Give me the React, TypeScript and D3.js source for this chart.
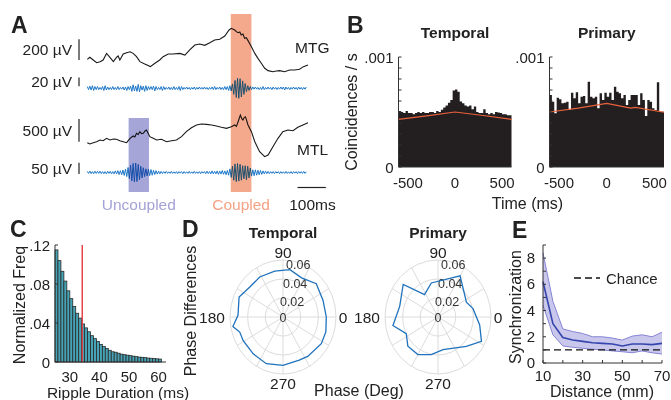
import React from "react";
import * as d3 from "d3";

const FONT = "'Liberation Sans', Arial, Helvetica, sans-serif";
const INK = "#231f20";
const AXIS = "#333333";

// ---------- A: example traces ----------
// [time ms, µV]
const mtgLfp: [number, number][] = [
  [0, 6], [9, 26], [21, 0], [33, -26], [45, -16], [56, 0], [68, 64], [80, 26], [92, -16], [103, 26],
  [109, 39], [115, 0], [127, 58], [139, 71], [151, 80], [162, 64], [174, 32], [186, -16], [203, -39],
  [223, -64], [239, -32], [256, 0], [268, 32], [286, 58], [303, 58], [327, 64], [345, 48], [362, 97],
  [380, 145], [397, 155], [415, 142], [433, 167], [450, 193], [468, 200], [486, 232], [501, 290],
  [509, 306], [521, 290], [527, 274], [533, 264], [539, 270], [544, 242], [550, 250], [556, 209],
  [562, 215], [568, 187], [580, 129], [592, 64], [603, 16], [615, -32], [627, -80], [639, -103],
  [656, -113], [668, -106], [680, -103], [697, -113], [715, -97], [733, -97], [750, -90], [764, -64],
  [780, -48],
];
const mtlLfp: [number, number][] = [
  [0, -59], [9, -88], [21, -59], [33, -37], [45, 0], [56, -15], [68, 37], [80, 0], [92, 22], [103, 15],
  [115, -15], [127, -37], [139, -59], [151, 37], [162, 88], [168, 66], [174, 147], [180, 120], [186, 183],
  [192, 140], [198, 147], [204, 200], [209, 220], [215, 147], [221, 73], [233, 37], [245, 0], [262, 15],
  [280, -37], [298, -15], [315, 0], [333, 73], [350, 183], [368, 271], [386, 330], [403, 352], [421, 345],
  [439, 330], [456, 308], [474, 279], [492, 257], [509, 293], [521, 330], [527, 300], [533, 403],
  [541, 550], [546, 470], [550, 440], [555, 500], [559, 513], [568, 330], [580, 183], [592, -37],
  [609, -257], [627, -367], [639, -330], [656, -147], [674, 37], [691, 183], [709, 220], [727, 205],
  [744, 279], [762, 330], [780, 381],
];
// ripple band traces: one peak value (µV) per half cycle
const rippleStep = 4.5; // ms per half cycle
const mtgRipple = [
  4, -3, 5, -4, 6, -5, 4, -3, 4, -3, 2, -3, 4, -5, 6, -4, 3, -3, 2, -3,
  4, -3, 2, -3, 4, -3, 2, -2, 3, -4, 3, -5, 4, -3, 5, -7, 8, -6, 5, -7,
  9, -8, 6, -4, 5, -7, 6, -5, 4, -3, 4, -3, 5, -6, 4, -3, 2, -3, 4, -5,
  4, -3, 2, -2, 3, -3, 2, -3, 4, -3, 2, -3, 4, -5, 4, -3, 2, -2, 3, -2,
  2, -3, 2, -2, 3, -3, 2, -2, 3, -2, 2, -2, 3, -2, 2, -3, 2, -2, 3, -3,
  4, -3, 2, -2, 3, -3, 2, -3, 4, -3, 4, -5, 6, -6, 10, -14, 18, -21, 23, -23,
  22, -20, 17, -14, 11, -8, 6, -5, 4, -3, 3, -2, 3, -2, 2, -3, 2, -3, 4, -3,
  2, -2, 3, -2, 2, -3, 3, -2, 2, -3, 2, -2, 3, -2, 3, -4, 3, -2, 2, -3,
  2, -2, 3, -2, 2, -3, 3, -2, 2, -3, 2, -2, 3,
];
const mtlRipple = [
  5, -4, 6, -5, 4, -5, 6, -4, 5, -4, 6, -5, 4, -5, 4, -6, 5, -4, 5, -6, 4,
  -6, 7, -6, 8, -9, 8, -10, 11, -13, 15, -18,
  22, -27, 32, -37, 40, -42, 42, -40, 36, -32, 28, -24, 21, -18, 16, -15, 14,
  -14, 13, -12, 10, -9, 8, -7, 6, -6, 5, -5, 4,
  -4, 5, -4, 3, -4, 5, -4, 3, -4, 4, -5, 4, -3, 4, -5, 4, -4, 3, -4, 5,
  -4, 3, -4, 5, -4, 3, -4, 4, -5, 4, -3, 4, -5, 6, -5, 4, -6, 7, -6, 5,
  -6, 7, -8, 6, -7, 9, -8, 7, -10, 9, -12, 16,
  -22, 28, -34, 38, -40, 40, -38, 36, -34, 30, -28, 30, -32, 28, -24, 20, -16, 12,
  -14, 12, -12, 10, -10, 9, -8, 7, -6, 6, -5, 5, -5, 4, -4,
  4, -5, 4, -3, 4, -5, 4, -4, 3, -4, 5, -4, 3, -4, 4, -5, 4, -3, 4, -5,
  4, -3, 4, -4, 5, -4, 3,
];
const uncoupledWin = [146, 218];
const coupledWin = [507, 580];
const scaleBars = [
  { label: "200 µV", trace: "mtg", base: 0, size: 200 },
  { label: "20 µV", trace: "mtgR", base: 5, size: 20 },
  { label: "500 µV", trace: "mtl", base: -40, size: 500 },
  { label: "50 µV", trace: "mtlR", base: -7, size: 50 },
];

// ---------- B: coincidence histograms ----------
const binStart = -600;
const binWidth = 25;
const temporalCoinc = [
  5.1, 5.0, 4.9, 5.1, 4.9, 4.9, 4.8, 4.9, 5.0, 4.9, 5.0, 4.9, 4.9, 5.0, 5.0, 4.9,
  5.1, 5.0, 5.2, 5.4, 5.6, 5.85, 6.1, 6.95, 7.05, 6.85, 5.95, 5.8, 5.6, 5.5, 5.6, 5.25,
  5.5, 5.0, 4.9, 4.9, 5.25, 4.9, 4.8, 4.9, 4.8, 5.0, 4.95, 4.9, 4.8, 4.8, 4.7, 4.7,
]; // x 1e-4
const primaryCoinc = [
  6.55, 5.94, 4.88, 6.3, 6.15, 5.79, 5.85, 5.94, 5.18, 6.76, 6.24, 6.79, 5.79, 6.39, 6.45, 5.79,
  7.76, 6.39, 6.24, 6.39, 5.33, 6.7, 6.09, 6.76, 6.39, 6.76, 6.09, 7.3, 6.85, 6.7, 6.24, 6.55,
  5.64, 6.09, 6.55, 6.55, 6.55, 5.64, 6.7, 6.09, 4.64, 6.09, 5.94, 5.33, 5.18, 7.7, 5.03, 5.03,
]; // x 1e-4
const temporalChance: [number, number][] = [[-600, 4.33], [-300, 4.65], [0, 5.0], [300, 4.68], [600, 4.33]];
const primaryChance: [number, number][] = [[-600, 5.0], [-300, 5.35], [0, 5.78], [250, 5.35], [300, 5.42], [600, 4.98]];
const timeTicks = [-500, 0, 500];

// ---------- C: ripple duration ----------
const rippleDur = [
  25, 26, 27, 28, 29, 30, 31, 32, 33, 34, 35, 36, 37, 38, 39, 40, 41, 42,
  43, 44, 45, 46, 47, 48, 49, 50, 51, 52, 53, 54, 55, 56, 57, 58, 59, 60,
];
const rippleFreq = [
  0.115, 0.104, 0.093, 0.083, 0.073, 0.065, 0.057, 0.05, 0.045, 0.039, 0.035, 0.031,
  0.027, 0.024, 0.021, 0.018, 0.016, 0.014, 0.012, 0.0105, 0.01, 0.009, 0.008, 0.0075,
  0.007, 0.0065, 0.006, 0.0055, 0.005, 0.0048, 0.0045, 0.004, 0.0038, 0.0035, 0.0032, 0.003,
];
const durationCut = 34.2;
const freqTicks = [0, 0.04, 0.08, 0.12];
const freqTickLabels = ["0", ".04", ".08", ".12"];
const durTicks = [30, 40, 50, 60];

// ---------- D: phase differences ----------
const temporalPhase: [number, number][] = [
  [0, 0.049], [21, 0.0486], [43, 0.0515], [63, 0.0463], [81, 0.0504], [101, 0.0493], [122, 0.0497],
  [140, 0.049], [157, 0.054], [178, 0.051], [190, 0.0576], [198, 0.0515], [209, 0.0515], [229, 0.0514],
  [249, 0.0526], [270, 0.0509], [292, 0.049], [304, 0.05], [327, 0.0517], [342, 0.051],
];
const primaryPhase: [number, number][] = [
  [12.5, 0.0406], [26, 0.0358], [60, 0.05], [102, 0.0366], [123, 0.028], [139, 0.0522],
  [165.5, 0.0448], [190, 0.0518], [206, 0.04], [222, 0.0459], [240, 0.0456], [259, 0.0403],
  [279.4, 0.0349], [316, 0.0445], [332.5, 0.0555], [350, 0.0479],
];
const ringValues = [0.02, 0.04, 0.06];
const ringLabels = ["0", "0.02", "0.04", "0.06"];
const spokeAngles = [0, 30, 60, 90, 120, 150, 180, 210, 240, 270, 300, 330];

// ---------- E: synchronization vs distance ----------
const distances = [10, 15, 20, 25, 30, 35, 40, 45, 50, 55, 60, 65, 70];
const syncMean = [6.2, 3.0, 1.95, 1.75, 1.65, 1.55, 1.5, 1.45, 1.3, 1.45, 1.45, 1.4, 1.5];
const syncUpper = [8.4, 4.7, 2.6, 2.4, 2.25, 2.0, 2.0, 1.9, 1.75, 2.05, 2.15, 2.0, 2.35];
const syncLower = [4.4, 2.15, 1.3, 1.2, 1.12, 1.05, 1.0, 0.92, 0.86, 0.78, 0.92, 0.78, 0.68];
const chanceLevel = 1;
const syncTicks = [0, 2, 4, 6, 8];
const distTicks = [10, 30, 50, 70];

const T = (p: any) => <text fontFamily={FONT} fill="#222" {...p} />;

function PanelA() {
  const x = d3.scaleLinear().domain([0, 780]).range([87.3, 308]);
  const ys: Record<string, d3.ScaleLinear<number, number>> = {
    mtg: d3.scaleLinear().domain([0, 200]).range([60, 39.3]),
    mtgR: d3.scaleLinear().domain([0, 20]).range([88.3, 79.6]),
    mtl: d3.scaleLinear().domain([0, 500]).range([140, 117.3]),
    mtlR: d3.scaleLinear().domain([0, 50]).range([172.5, 161.2]),
  };
  const lfp = (y: d3.ScaleLinear<number, number>) =>
    d3.line<[number, number]>().x((d) => x(d[0])).y((d) => y(d[1]));
  const rip = (y: d3.ScaleLinear<number, number>) =>
    d3.line<number>().x((_, i) => x(i * rippleStep)).y((d) => y(d));
  const blue = "#1f78c8";
  return (
    <g>
      <T x={11} y={33} fontSize={23} fontWeight="bold">A</T>
      <path d={lfp(ys.mtg)(mtgLfp) || ""} fill="none" stroke="#1a1a1a" strokeWidth={1.1} />
      <path d={rip(ys.mtgR)(mtgRipple) || ""} fill="none" stroke={blue} strokeWidth={1} />
      <path d={lfp(ys.mtl)(mtlLfp) || ""} fill="none" stroke="#1a1a1a" strokeWidth={1.1} />
      <path d={rip(ys.mtlR)(mtlRipple) || ""} fill="none" stroke={blue} strokeWidth={1} />
      <rect x={x(uncoupledWin[0])} width={x(uncoupledWin[1]) - x(uncoupledWin[0])} y={118} height={74}
        fill="#8f8ecf" opacity={0.8} style={{ mixBlendMode: "multiply" }} />
      <rect x={x(coupledWin[0])} width={x(coupledWin[1]) - x(coupledWin[0])} y={14} height={178}
        fill="#f39a78" opacity={0.85} style={{ mixBlendMode: "multiply" }} />
      {scaleBars.map((b) => {
        const y = ys[b.trace];
        const y0 = y(b.base), y1 = y(b.base + b.size);
        return (
          <g key={b.label}>
            <line x1={79} x2={79} y1={y0} y2={y1} stroke="#222" strokeWidth={1.2} />
            <T x={72} y={(y0 + y1) / 2 + 5.5} fontSize={15.5} textAnchor="end">{b.label}</T>
          </g>
        );
      })}
      <T x={295} y={53.3} fontSize={15.5}>MTG</T>
      <T x={297} y={155} fontSize={15.5}>MTL</T>
      <line x1={x(743)} x2={x(843)} y1={187.5} y2={187.5} stroke="#222" strokeWidth={1.2} />
      <T x={(x(uncoupledWin[0]) + x(uncoupledWin[1])) / 2} y={209.5} fontSize={15.5} textAnchor="middle" fill="#a3a2d6">Uncoupled</T>
      <T x={(x(coupledWin[0]) + x(coupledWin[1])) / 2} y={209.5} fontSize={15.5} textAnchor="middle" fill="#f4a283">Coupled</T>
      <T x={312.5} y={209.5} fontSize={15.5} textAnchor="middle">100ms</T>
    </g>
  );
}

function Histo({ data, chance, x0, x1, title, showYLabel }: any) {
  const x = d3.scaleLinear().domain([-600, 600]).range([x0, x1]);
  const y = d3.scaleLinear().domain([0, 0.001]).range([167, 57]);
  const line = d3.line<[number, number]>().x((d) => x(d[0])).y((d) => y(d[1] * 1e-4));
  const steps: [number, number][] = data.map((v: number, i: number) => [binStart + i * binWidth, v]);
  steps.push([binStart + data.length * binWidth, data[data.length - 1]]);
  const bars = d3.area<[number, number]>().x((d) => x(d[0])).y0(y(0)).y1((d) => y(d[1] * 1e-4)).curve(d3.curveStepAfter);
  const yt = d3.range(0, 11).map((k) => k * 0.0001);
  return (
    <g>
      <T x={(x0 + x1) / 2} y={37.5} fontSize={15.5} fontWeight="bold" textAnchor="middle">{title}</T>
      <path d={bars(steps) || ""} fill={INK} />
      <path d={line(chance) || ""} fill="none" stroke="#e8603c" strokeWidth={1.2} />
      <line x1={x0} x2={x0} y1={y(0)} y2={y(0.001)} stroke={AXIS} strokeWidth={1} />
      <line x1={x0} x2={x1} y1={y(0)} y2={y(0)} stroke={AXIS} strokeWidth={1} />
      {yt.map((t) => <line key={t} x1={x0} x2={x0 + 3} y1={y(t)} y2={y(t)} stroke={AXIS} strokeWidth={1} />)}
      <T x={x0 - 5} y={y(0.001) + 5.5} fontSize={15} textAnchor="end">.001</T>
      <T x={x0 - 5} y={y(0) + 5.5} fontSize={15} textAnchor="end">0</T>
      {timeTicks.map((t) => (
        <T key={t} x={x(t)} y={188} fontSize={15} textAnchor="middle">{t < 0 ? `-${-t}` : t}</T>
      ))}
      {showYLabel && (
        <T transform={`translate(357,112) rotate(-90)`} fontSize={16} textAnchor="middle">Coincidences / s</T>
      )}
    </g>
  );
}

function PanelC() {
  const x = d3.scaleLinear().domain([25, 62.5]).range([55, 166]);
  const y = d3.scaleLinear().domain([0, 0.12]).range([362, 245]);
  return (
    <g>
      <T x={10} y={237} fontSize={23} fontWeight="bold">C</T>
      {rippleDur.map((d, i) => (
        <rect key={d} x={x(d)} width={x(d + 1) - x(d)} y={y(rippleFreq[i])} height={y(0) - y(rippleFreq[i])}
          fill="#46a3b6" stroke="#2a2a2a" strokeWidth={0.8} />
      ))}
      <line x1={x(durationCut)} x2={x(durationCut)} y1={y(0.12)} y2={y(0)} stroke="#e8383d" strokeWidth={1.4} />
      <line x1={x(25)} x2={x(25)} y1={y(0)} y2={y(0.12)} stroke={AXIS} />
      <line x1={x(25)} x2={x(62.5)} y1={y(0)} y2={y(0)} stroke={AXIS} />
      {freqTicks.map((t, i) => (
        <g key={t}>
          <line x1={x(25)} x2={x(25) + 3} y1={y(t)} y2={y(t)} stroke={AXIS} />
          <T x={50} y={y(t) + 5.5} fontSize={15} textAnchor="end">{freqTickLabels[i]}</T>
        </g>
      ))}
      {durTicks.map((t) => (
        <T key={t} x={x(t)} y={381.5} fontSize={15} textAnchor="middle">{t}</T>
      ))}
      <T transform={`translate(25,305) rotate(-90)`} fontSize={16} textAnchor="middle">Normalized Freq</T>
      <T x={118} y={398} fontSize={15.5} textAnchor="middle">Ripple Duration (ms)</T>
    </g>
  );
}

function Polar({ cx, cy, data, title }: any) {
  const rx = d3.scaleLinear().domain([0, 0.06]).range([0, 53]);
  const ry = d3.scaleLinear().domain([0, 0.06]).range([0, 57]);
  const pt = (deg: number, r: number): [number, number] => {
    const a = (deg * Math.PI) / 180;
    return [cx + rx(r) * Math.cos(a), cy - ry(r) * Math.sin(a)];
  };
  const line = d3.line<[number, number]>().x((d) => pt(d[0], d[1])[0]).y((d) => pt(d[0], d[1])[1]).curve(d3.curveLinearClosed);
  const grid = "#dcdcdc";
  return (
    <g>
      <T x={cx} y={238} fontSize={15.5} fontWeight="bold" textAnchor="middle">{title}</T>
      {ringValues.map((r) => (
        <ellipse key={r} cx={cx} cy={cy} rx={rx(r)} ry={ry(r)} fill="none" stroke={grid} strokeWidth={1} />
      ))}
      {spokeAngles.map((a) => {
        const [px, py] = pt(a, 0.06);
        return <line key={a} x1={cx} y1={cy} x2={px} y2={py} stroke={grid} strokeWidth={1} />;
      })}
      {[0, ...ringValues].map((r, i) => {
        const [px, py] = pt(80, r);
        return (
          <T key={r} x={r === 0 ? cx : px + 6} y={r === 0 ? cy + 4.5 : py + 8} fontSize={12.5} textAnchor="middle" fill="#333">
            {ringLabels[i]}
          </T>
        );
      })}
      <path d={line(data) || ""} fill="none" stroke="#1f72bd" strokeWidth={1.3} />
      <T x={cx} y={cy - 59.5} fontSize={15.5} textAnchor="middle">90</T>
      <T x={cx} y={cy + 71.5} fontSize={15.5} textAnchor="middle">270</T>
      <T x={cx + 60} y={cy + 5.5} fontSize={15.5} textAnchor="middle">0</T>
      <T x={cx - 71} y={cy + 5.5} fontSize={15.5} textAnchor="middle">180</T>
    </g>
  );
}

function PanelE() {
  const x = d3.scaleLinear().domain([10, 70]).range([543, 662]);
  const y = d3.scaleLinear().domain([0, 9]).range([363, 245]);
  const area = d3.area<number>().x((d) => x(d)).y0((_, i) => y(syncLower[i])).y1((_, i) => y(syncUpper[i]));
  const lineU = d3.line<number>().x((d) => x(d)).y((_, i) => y(syncUpper[i]));
  const lineL = d3.line<number>().x((d) => x(d)).y((_, i) => y(syncLower[i]));
  const lineM = d3.line<number>().x((d) => x(d)).y((_, i) => y(syncMean[i]));
  return (
    <g>
      <T x={512} y={238} fontSize={23} fontWeight="bold">E</T>
      <path d={area(distances) || ""} fill="#c9c8ec" />
      <path d={lineU(distances) || ""} fill="none" stroke="#8584d4" strokeWidth={1} />
      <path d={lineL(distances) || ""} fill="none" stroke="#8584d4" strokeWidth={1} />
      <path d={lineM(distances) || ""} fill="none" stroke="#3545ad" strokeWidth={1.6} />
      <line x1={x(10)} x2={x(70)} y1={y(chanceLevel)} y2={y(chanceLevel)} stroke="#111" strokeWidth={1.3} strokeDasharray="7,4" />
      <line x1={x(10)} x2={x(10)} y1={y(0)} y2={y(9)} stroke={AXIS} />
      <line x1={x(10)} x2={x(70)} y1={y(0)} y2={y(0)} stroke={AXIS} />
      {d3.range(0, 10).map((t) => <line key={t} x1={x(10)} x2={x(10) + 3} y1={y(t)} y2={y(t)} stroke={AXIS} />)}
      {d3.range(10, 71, 10).map((t) => <line key={t} x1={x(t)} x2={x(t)} y1={y(0)} y2={y(0) - 3} stroke={AXIS} />)}
      {syncTicks.map((t) => <T key={t} x={535} y={y(t) + 5} fontSize={15} textAnchor="end">{t}</T>)}
      {distTicks.map((t) => <T key={t} x={x(t)} y={381} fontSize={15} textAnchor="middle">{t}</T>)}
      <line x1={574} x2={600} y1={278} y2={278} stroke="#111" strokeWidth={1.3} strokeDasharray="7,4" />
      <T x={606} y={283.5} fontSize={15}>Chance</T>
      <T transform={`translate(521,307) rotate(-90)`} fontSize={16} textAnchor="middle">Synchronization</T>
      <T x={602} y={397} fontSize={16} textAnchor="middle">Distance (mm)</T>
    </g>
  );
}

export default function App() {
  return (
    <svg width={671} height={400} style={{ position: "absolute", left: 0, top: 0, background: "#fff" }}>
      <PanelA />
      <T x={347} y={33} fontSize={23} fontWeight="bold">B</T>
      <Histo data={temporalCoinc} chance={temporalChance} x0={398.5} x1={511.5} title="Temporal" showYLabel />
      <Histo data={primaryCoinc} chance={primaryChance} x0={549.5} x1={664} title="Primary" />
      <T x={527.5} y={209} fontSize={16} textAnchor="middle">Time (ms)</T>
      <PanelC />
      <T x={182} y={237} fontSize={23} fontWeight="bold">D</T>
      <Polar cx={283} cy={317} data={temporalPhase} title="Temporal" />
      <Polar cx={438} cy={317} data={primaryPhase} title="Primary" />
      <T transform={`translate(196,311) rotate(-90)`} fontSize={16} textAnchor="middle">Phase Differences</T>
      <T x={359} y={396} fontSize={16} textAnchor="middle">Phase (Deg)</T>
      <PanelE />
    </svg>
  );
}
